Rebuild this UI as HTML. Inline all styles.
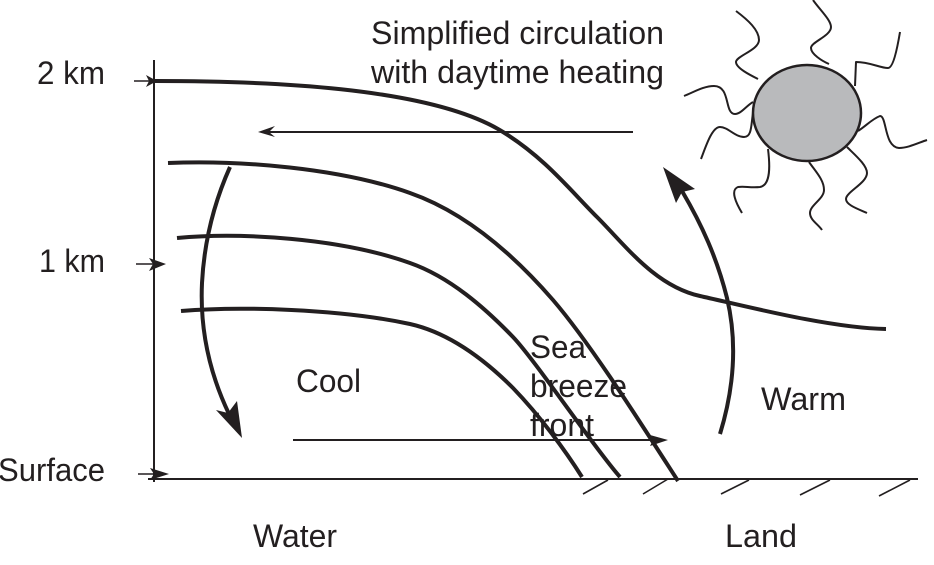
<!DOCTYPE html>
<html><head><meta charset="utf-8"><style>
html,body{margin:0;padding:0;background:#fff;width:934px;height:565px;overflow:hidden}
svg{display:block}
text{font-family:"Liberation Sans",sans-serif;font-size:32px;fill:#231f20}
</style></head><body>
<svg width="934" height="565" viewBox="0 0 934 565" xmlns="http://www.w3.org/2000/svg">
<rect width="934" height="565" fill="#fff"/>
<g fill="none" stroke="#231f20" stroke-linecap="butt" stroke-linejoin="round">
<!-- axis -->
<path d="M154 60V482" stroke-width="2"/>
<path d="M148 479H918" stroke-width="2"/>
<path d="M134 81H152M136 264H155M138 474H155" stroke-width="1.6"/>
<!-- hatches -->
<path d="M583 494L608 480M643 494L668 479M721 494L749 480M800 495L830 480M879 496L910 480" stroke-width="1.6"/>
<!-- horizontal arrows -->
<path d="M268 132H633" stroke-width="2"/>
<path d="M293 440H655" stroke-width="2"/>
<!-- main curves -->
<path d="M155 81C260 81 430 86 503 132C545 158 570 190 597 217C625 245 655 286 700 296C745 306 830 328 886 329" stroke-width="4"/>
<path d="M168 163C240 160 340 168 410 193C470 214 520 262 553 300C590 343 640 422 678 481" stroke-width="4"/>
<path d="M177 238C240 232 340 238 410 263C450 277 485 308 513 337C535 360 595 449 620 477" stroke-width="4"/>
<path d="M181 311C240 306 340 309 410 324C450 333 485 360 513 388C540 416 565 450 582 477" stroke-width="4"/>
<!-- cool arrow -->
<path d="M230 167C213 205 204 245 202 283C200 325 208 370 229 414" stroke-width="4"/>
<!-- warm arrow -->
<path d="M720 434C735 385 737 340 727 298C717 258 702 225 682 191" stroke-width="4"/>
<!-- sun rays -->
<g stroke-width="2" stroke-linecap="butt">
<path d="M736 11C748 20 759 30 759 40C759 50 736 56 736 62C736 68 750 75 758 79"/>
<path d="M813 0C820 10 831 20 831 27C831 36 811 42 811 48C811 54 822 61 829 64"/>
<path d="M855 86L856 62C870 62 880 68 888 68C893 68 897 50 900 32"/>
<path d="M858 131C866 126 872 119 880 116C887 116 884 147 899 148C908 148 918 143 927 140"/>
<path d="M847 147C855 155 867 165 867 173C867 183 846 192 846 199C846 205 858 209 867 213"/>
<path d="M809 162C816 172 824 180 824 190C824 199 810 205 810 213C810 220 818 224 822 230"/>
<path d="M768 149C770 165 771 185 760 187C750 188 745 186 738 187C730 190 736 203 742 213"/>
<path d="M753 113C751 125 752 137 744 137C735 137 728 127 720 127C712 127 706 146 701 159"/>
<path d="M753 102C746 106 741 114 735 114C724 114 731 86 714 86C704 86 694 92 684 96"/>
</g>
<ellipse cx="807" cy="113" rx="54" ry="48" fill="#b9babc" stroke-width="2.5"/>
</g>
<!-- arrowheads -->
<g fill="#231f20" stroke="none">
<polygon points="157,81 146,75 149,81 146,87"/>
<polygon points="166,264 149,258 153,264 149,271"/>
<polygon points="169,474 150,468 154,474 150,480"/>
<polygon points="258,132 275,126 269,132 275,137"/>
<polygon points="668,440 650,435 653,440 650,446"/>
<polygon points="242,438 216,410 228,413 237,401"/>
<polygon points="663,167 695,189 682,192 676,203"/>
</g>
<!-- labels -->
<text x="371" y="44" textLength="293" lengthAdjust="spacingAndGlyphs">Simplified circulation</text>
<text x="371" y="83" textLength="293" lengthAdjust="spacingAndGlyphs">with daytime heating</text>
<text x="37" y="84" textLength="68" lengthAdjust="spacingAndGlyphs">2 km</text>
<text x="39" y="272" textLength="66" lengthAdjust="spacingAndGlyphs">1 km</text>
<text x="-2" y="481" textLength="107" lengthAdjust="spacingAndGlyphs">Surface</text>
<text x="296" y="392" textLength="65" lengthAdjust="spacingAndGlyphs">Cool</text>
<text x="761" y="410" textLength="85" lengthAdjust="spacingAndGlyphs">Warm</text>
<text x="253" y="547" textLength="84" lengthAdjust="spacingAndGlyphs">Water</text>
<text x="725" y="547" textLength="72" lengthAdjust="spacingAndGlyphs">Land</text>
<text x="530" y="358" textLength="56" lengthAdjust="spacingAndGlyphs">Sea</text>
<text x="530" y="397" textLength="97" lengthAdjust="spacingAndGlyphs">breeze</text>
<text x="530" y="436" textLength="64" lengthAdjust="spacingAndGlyphs">front</text>
</svg>
</body></html>
